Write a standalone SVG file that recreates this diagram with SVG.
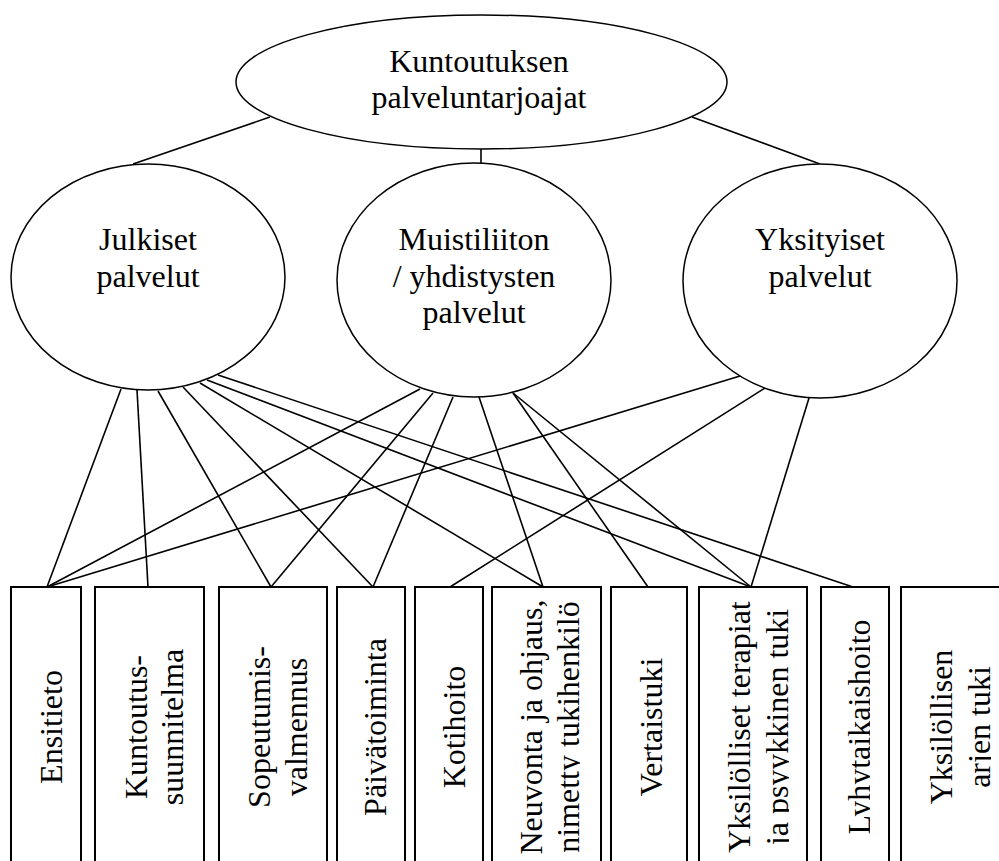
<svg xmlns="http://www.w3.org/2000/svg" width="999" height="861" viewBox="0 0 999 861">
<rect width="999" height="861" fill="#fff"/>

<g id="connectors" stroke="#000" stroke-width="1.6" fill="none">
  <line x1="270" y1="117" x2="133" y2="164"/>
  <line x1="481" y1="149" x2="481" y2="163"/>
  <line x1="692" y1="117" x2="820" y2="164"/>
  <line x1="121" y1="389" x2="47" y2="587"/>
  <line x1="137" y1="390" x2="148" y2="587"/>
  <line x1="158" y1="391" x2="271" y2="587"/>
  <line x1="183" y1="387" x2="373" y2="587"/>
  <line x1="200" y1="383" x2="543" y2="587"/>
  <line x1="207" y1="380" x2="751" y2="587"/>
  <line x1="218" y1="375" x2="853" y2="587"/>
  <line x1="420" y1="389" x2="47" y2="587"/>
  <line x1="433" y1="393" x2="271" y2="587"/>
  <line x1="453" y1="397" x2="373" y2="587"/>
  <line x1="479" y1="397" x2="543" y2="587"/>
  <line x1="513" y1="393" x2="648" y2="587"/>
  <line x1="513" y1="393" x2="751" y2="587"/>
  <line x1="740" y1="376" x2="47" y2="587"/>
  <line x1="765" y1="388" x2="450" y2="587"/>
  <line x1="809" y1="398" x2="751" y2="587"/>
</g>

<g id="node-kuntoutuksen">
  <ellipse cx="481.5" cy="82" rx="245.5" ry="67" fill="#fff" stroke="#000" stroke-width="1.5"/>
  <text font-family="Liberation Serif" font-size="32" text-anchor="middle" x="479" y="72">Kuntoutuksen</text>
  <text font-family="Liberation Serif" font-size="32" text-anchor="middle" x="479" y="108">palveluntarjoajat</text>
</g>
<g id="node-julkiset">
  <ellipse cx="148" cy="277" rx="137" ry="113" fill="#fff" stroke="#000" stroke-width="1.5"/>
  <text font-family="Liberation Serif" font-size="32" text-anchor="middle" x="148" y="250">Julkiset</text>
  <text font-family="Liberation Serif" font-size="32" text-anchor="middle" x="148" y="287">palvelut</text>
</g>
<g id="node-muistiliiton">
  <ellipse cx="474" cy="280" rx="137" ry="117" fill="#fff" stroke="#000" stroke-width="1.5"/>
  <text font-family="Liberation Serif" font-size="32" text-anchor="middle" x="474" y="250">Muistiliiton</text>
  <text font-family="Liberation Serif" font-size="32" text-anchor="middle" x="474" y="287">/ yhdistysten</text>
  <text font-family="Liberation Serif" font-size="32" text-anchor="middle" x="474" y="323">palvelut</text>
</g>
<g id="node-yksityiset">
  <ellipse cx="820" cy="281" rx="137" ry="117" fill="#fff" stroke="#000" stroke-width="1.5"/>
  <text font-family="Liberation Serif" font-size="32" text-anchor="middle" x="820" y="250">Yksityiset</text>
  <text font-family="Liberation Serif" font-size="32" text-anchor="middle" x="820" y="287">palvelut</text>
</g>

<g id="box-ensitieto">
  <rect x="11" y="587" width="70" height="290" fill="#fff" stroke="#000" stroke-width="2"/>
  <text font-family="Liberation Serif" font-size="32" text-anchor="middle" transform="translate(62,727) rotate(-90)">Ensitieto</text>
</g>
<g id="box-kuntoutussuunnitelma">
  <rect x="95" y="587" width="109" height="290" fill="#fff" stroke="#000" stroke-width="2"/>
  <text font-family="Liberation Serif" font-size="32" text-anchor="middle" transform="translate(147,727) rotate(-90)">Kuntoutus-</text>
  <text font-family="Liberation Serif" font-size="32" text-anchor="middle" transform="translate(183,727) rotate(-90)">suunnitelma</text>
</g>
<g id="box-sopeutumisvalmennus">
  <rect x="219" y="587" width="108" height="290" fill="#fff" stroke="#000" stroke-width="2"/>
  <text font-family="Liberation Serif" font-size="32" text-anchor="middle" transform="translate(270,727) rotate(-90)">Sopeutumis-</text>
  <text font-family="Liberation Serif" font-size="32" text-anchor="middle" transform="translate(307,727) rotate(-90)">valmennus</text>
</g>
<g id="box-paivatoiminta">
  <rect x="337" y="587" width="68" height="290" fill="#fff" stroke="#000" stroke-width="2"/>
  <text font-family="Liberation Serif" font-size="32" text-anchor="middle" transform="translate(386,727) rotate(-90)">Päivätoiminta</text>
</g>
<g id="box-kotihoito">
  <rect x="415" y="587" width="68" height="290" fill="#fff" stroke="#000" stroke-width="2"/>
  <text font-family="Liberation Serif" font-size="32" text-anchor="middle" transform="translate(465,727) rotate(-90)">Kotihoito</text>
</g>
<g id="box-neuvonta">
  <rect x="492" y="587" width="109" height="290" fill="#fff" stroke="#000" stroke-width="2"/>
  <text font-family="Liberation Serif" font-size="32" text-anchor="middle" transform="translate(542,727) rotate(-90)">Neuvonta ja ohjaus,</text>
  <text font-family="Liberation Serif" font-size="32" text-anchor="middle" transform="translate(579,727) rotate(-90)">nimetty tukihenkilö</text>
  <rect x="580" y="590" width="19.5" height="271" fill="#fff"/>
</g>
<g id="box-vertaistuki">
  <rect x="611" y="587" width="76" height="290" fill="#fff" stroke="#000" stroke-width="2"/>
  <text font-family="Liberation Serif" font-size="32" text-anchor="middle" transform="translate(662,727) rotate(-90)">Vertaistuki</text>
</g>
<g id="box-yksilolliset-terapiat">
  <rect x="699" y="587" width="108" height="290" fill="#fff" stroke="#000" stroke-width="2"/>
  <text font-family="Liberation Serif" font-size="32" text-anchor="middle" transform="translate(750,727) rotate(-90)">Yksilölliset terapiat</text>
  <text font-family="Liberation Serif" font-size="32" text-anchor="middle" transform="translate(788,727) rotate(-90)">ja psyykkinen tuki</text>
  <rect x="789" y="590" width="16.5" height="271" fill="#fff"/>
</g>
<g id="box-lyhytaikaishoito">
  <rect x="821" y="587" width="68" height="290" fill="#fff" stroke="#000" stroke-width="2"/>
  <text font-family="Liberation Serif" font-size="32" text-anchor="middle" transform="translate(870,727) rotate(-90)">Lyhytaikaishoito</text>
  <rect x="870" y="590" width="17.5" height="271" fill="#fff"/>
</g>
<g id="box-yksilollisen-arjen-tuki">
  <rect x="901" y="587" width="118" height="290" fill="#fff" stroke="#000" stroke-width="2"/>
  <text font-family="Liberation Serif" font-size="32" text-anchor="middle" transform="translate(952,727) rotate(-90)">Yksilöllisen</text>
  <text font-family="Liberation Serif" font-size="32" text-anchor="middle" transform="translate(990,727) rotate(-90)">arjen tuki</text>
  <rect x="991" y="590" width="10" height="271" fill="#fff"/>
</g>
</svg>
